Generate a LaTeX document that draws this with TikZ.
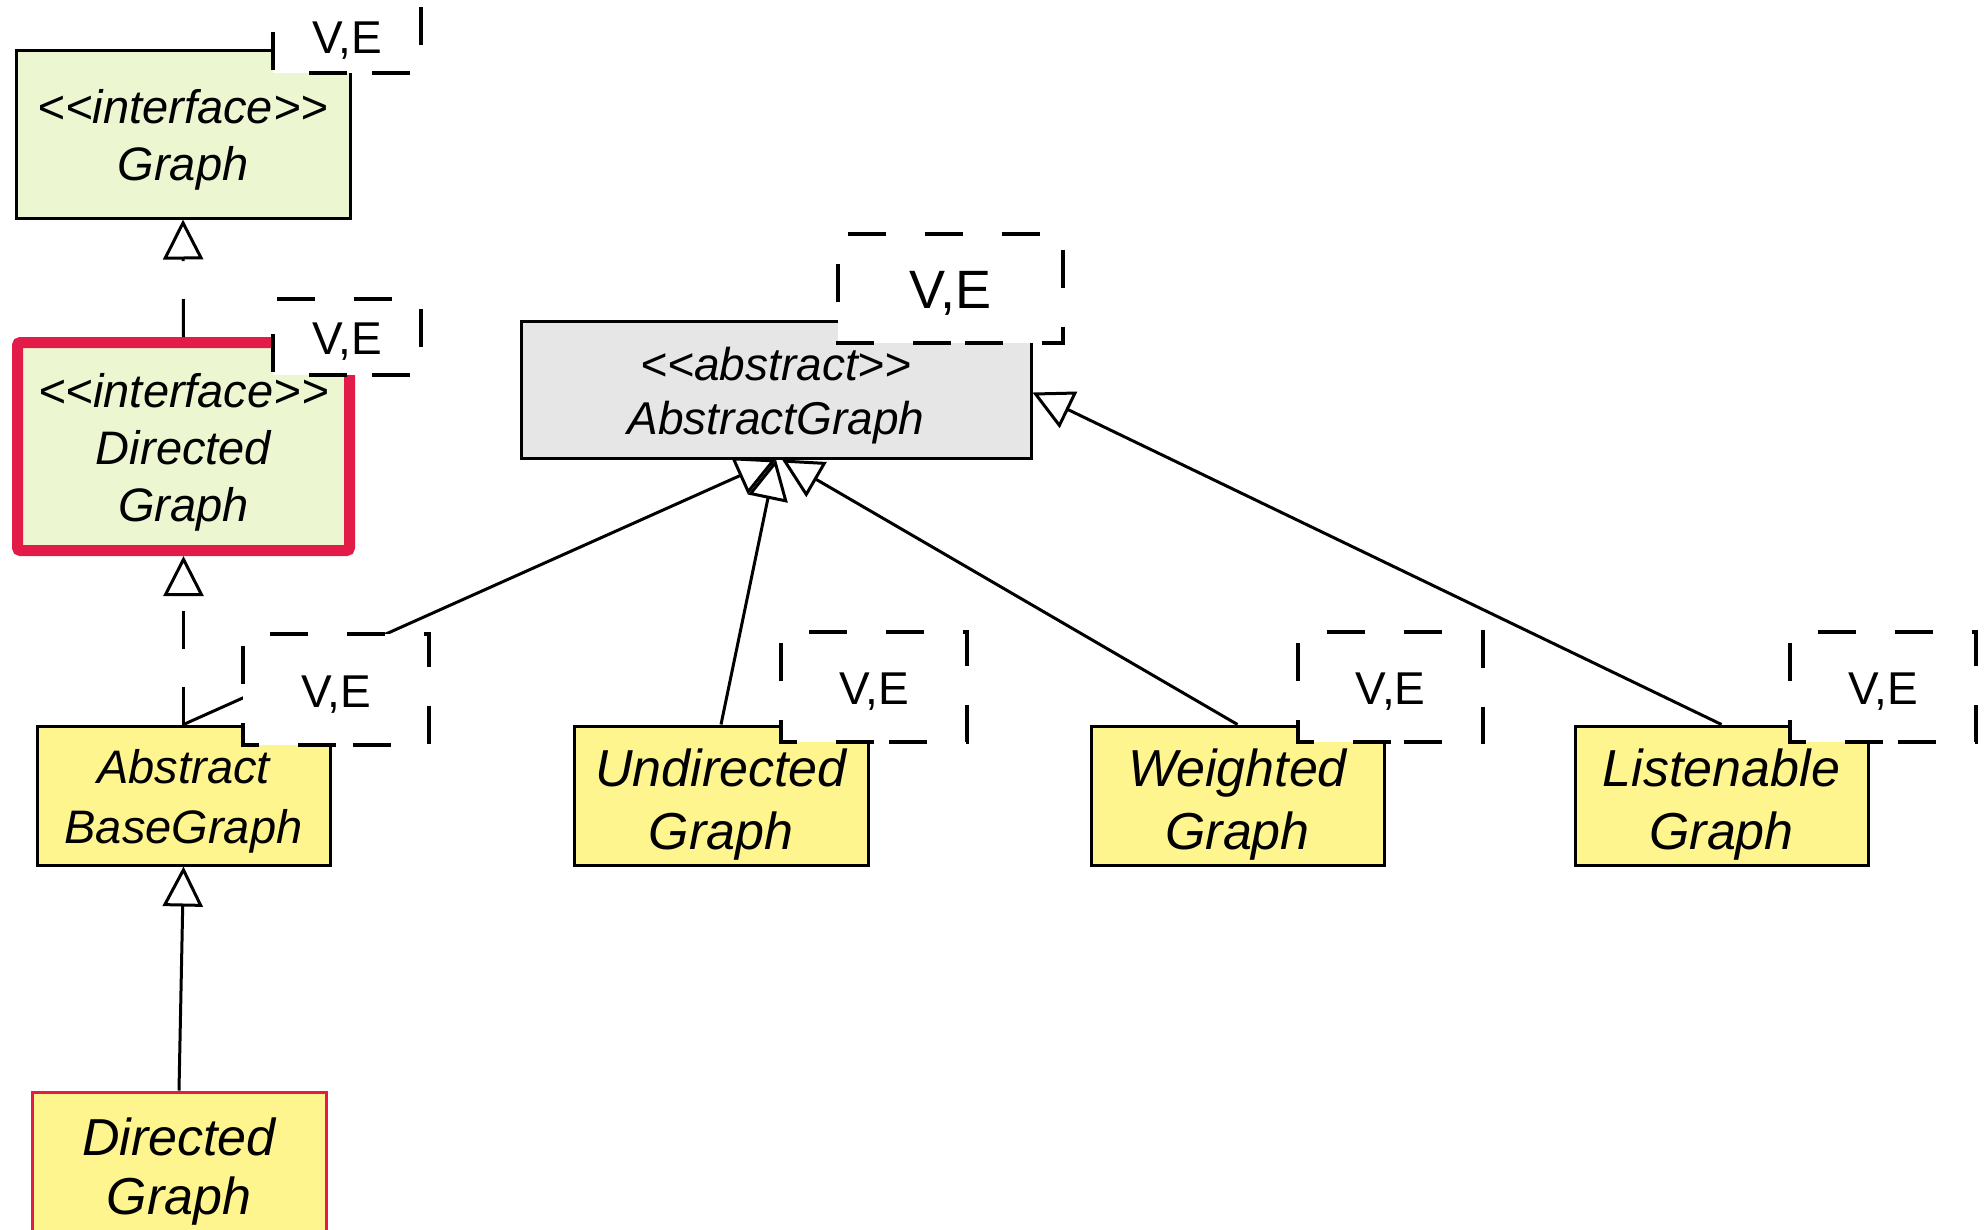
\documentclass[tikz,border=0pt]{standalone}
\usepackage{fontspec}
\newfontfamily\lsans{Liberation Sans}
\usetikzlibrary{arrows.meta}
\definecolor{ifill}{HTML}{ECF6D0}
\definecolor{yfill}{HTML}{FFF58F}
\definecolor{gfill}{HTML}{E6E6E6}
\definecolor{redb}{HTML}{E21B48}
\newcommand\vepath[1]{\draw[vedash] (#1.south) -- (#1.south west) -- (#1.north west) -- (#1.north east) -- (#1.south east) -- cycle;}
\begin{document}
\begin{tikzpicture}[x=1pt,y=-1pt,
  box/.style={draw=black, line width=3pt, inner sep=0pt},
  iface/.style={box, fill=ifill},
  absbox/.style={box, fill=gfill},
  cls/.style={box, fill=yfill},
  txt/.style={inner sep=0pt, align=center},
  itxt/.style={txt, font=\lsans\itshape\fontsize{47}{57}\selectfont},
  atxt/.style={txt, font=\lsans\itshape\fontsize{46}{54}\selectfont},
  ctxt/.style={txt, font=\lsans\itshape\fontsize{52}{63}\selectfont},
  ve/.style={fill=white, inner sep=0pt, outer sep=0pt},
  vedash/.style={draw=black, line width=3.5pt, dash pattern=on 38pt off 39pt},
  vetxt/.style={txt, font=\lsans\fontsize{46}{50}\selectfont},
  gen/.style={line width=3pt, -{Triangle[fill=white,length=40pt,width=40pt]}},
  real/.style={gen, dash pattern=on 38pt off 38pt}
]
\fill[white] (0,0) rectangle (1984,1229);
\useasboundingbox (0,0) rectangle (1984,1229);

% main boxes
\node[iface, minimum width=334pt, minimum height=168pt] (g) at (183,134) {};
\node[itxt] (gt) at ([yshift=-6pt]g.center) {<<interface>>\\Graph};
\node[iface, draw=redb, line width=11pt, rounded corners=3pt, minimum width=332pt, minimum height=208pt] (dgi) at (183.5,446.5) {};
\node[itxt] (dgit) at ([yshift=-6pt]dgi.center) {<<interface>>\\Directed\\Graph};
\node[absbox, minimum width=510pt, minimum height=137pt] (ag) at (776,389.5) {};
\node[atxt] (agt) at ([yshift=-6pt]ag.center) {<<abstract>>\\AbstractGraph};
\node[cls, minimum width=293pt, minimum height=139pt] (abg) at (183.5,795.5) {};
\node[txt, font=\lsans\itshape\fontsize{47}{60}\selectfont] (abgt) at ([yshift=-6pt]abg.center) {Abstract\\BaseGraph};
\node[cls, minimum width=294pt, minimum height=139pt] (ug) at (721,795.5) {};
\node[ctxt] (ugt) at ([yshift=-9pt]ug.center) {Undirected\\Graph};
\node[cls, minimum width=293pt, minimum height=139pt] (wg) at (1237.5,795.5) {};
\node[ctxt] (wgt) at ([yshift=-9pt]wg.center) {Weighted\\Graph};
\node[cls, minimum width=293pt, minimum height=139pt] (lg) at (1721.5,795.5) {};
\node[ctxt] (lgt) at ([yshift=-9pt]lg.center) {Listenable\\Graph};
\node[cls, draw=redb, minimum width=294pt, minimum height=153pt] (dg) at (179,1168.5) {};
\node[txt, font=\lsans\itshape\fontsize{52}{59}\selectfont] (dgt) at ([yshift=-3pt]dg.center) {Directed\\Graph};

% connectors
\draw[real] (dgi.north) -- (g.south);
\draw[real] (abg.north) -- (dgi.south);
\draw[gen] (abg.north) -- (ag.south);
\draw[gen] (ug.north) -- (ag.south);
\draw[gen] (wg.north) -- ([xshift=6pt]ag.south);
\draw[gen] (lg.north) -- ([yshift=-3pt]ag.east);
\draw[gen] (dg.north) -- (abg.south);

% template parameter boxes
\node[ve, minimum width=148pt, minimum height=76pt] (veg) at (347,35) {};
\vepath{veg}
\node[vetxt] (vegt) at ([yshift=-6pt]veg.center) {V,E};
\node[ve, minimum width=148pt, minimum height=76pt] (vedgi) at (347,337) {};
\vepath{vedgi}
\node[vetxt] (vedgit) at ([yshift=-5pt]vedgi.center) {V,E};
\node[ve, minimum width=225pt, minimum height=109pt] (veag) at (950.5,288.5) {};
\vepath{veag}
\node[vetxt, font=\lsans\fontsize{54}{58}\selectfont] (veagt) at ([yshift=-5pt]veag.center) {V,E};
\node[ve, minimum width=186pt, minimum height=111pt] (veabg) at (336,689.5) {};
\vepath{veabg}
\node[vetxt] (veabgt) at ([yshift=-5pt]veabg.center) {V,E};
\node[ve, minimum width=186pt, minimum height=110pt] (veug) at (874,687) {};
\vepath{veug}
\node[vetxt] (veugt) at ([yshift=-5pt]veug.center) {V,E};
\node[ve, minimum width=185pt, minimum height=110pt] (vewg) at (1390.5,687) {};
\vepath{vewg}
\node[vetxt] (vewgt) at ([yshift=-5pt]vewg.center) {V,E};
\node[ve, minimum width=186pt, minimum height=110pt] (velg) at (1883,687) {};
\vepath{velg}
\node[vetxt] (velgt) at ([yshift=-5pt]velg.center) {V,E};
\end{tikzpicture}
\end{document}
